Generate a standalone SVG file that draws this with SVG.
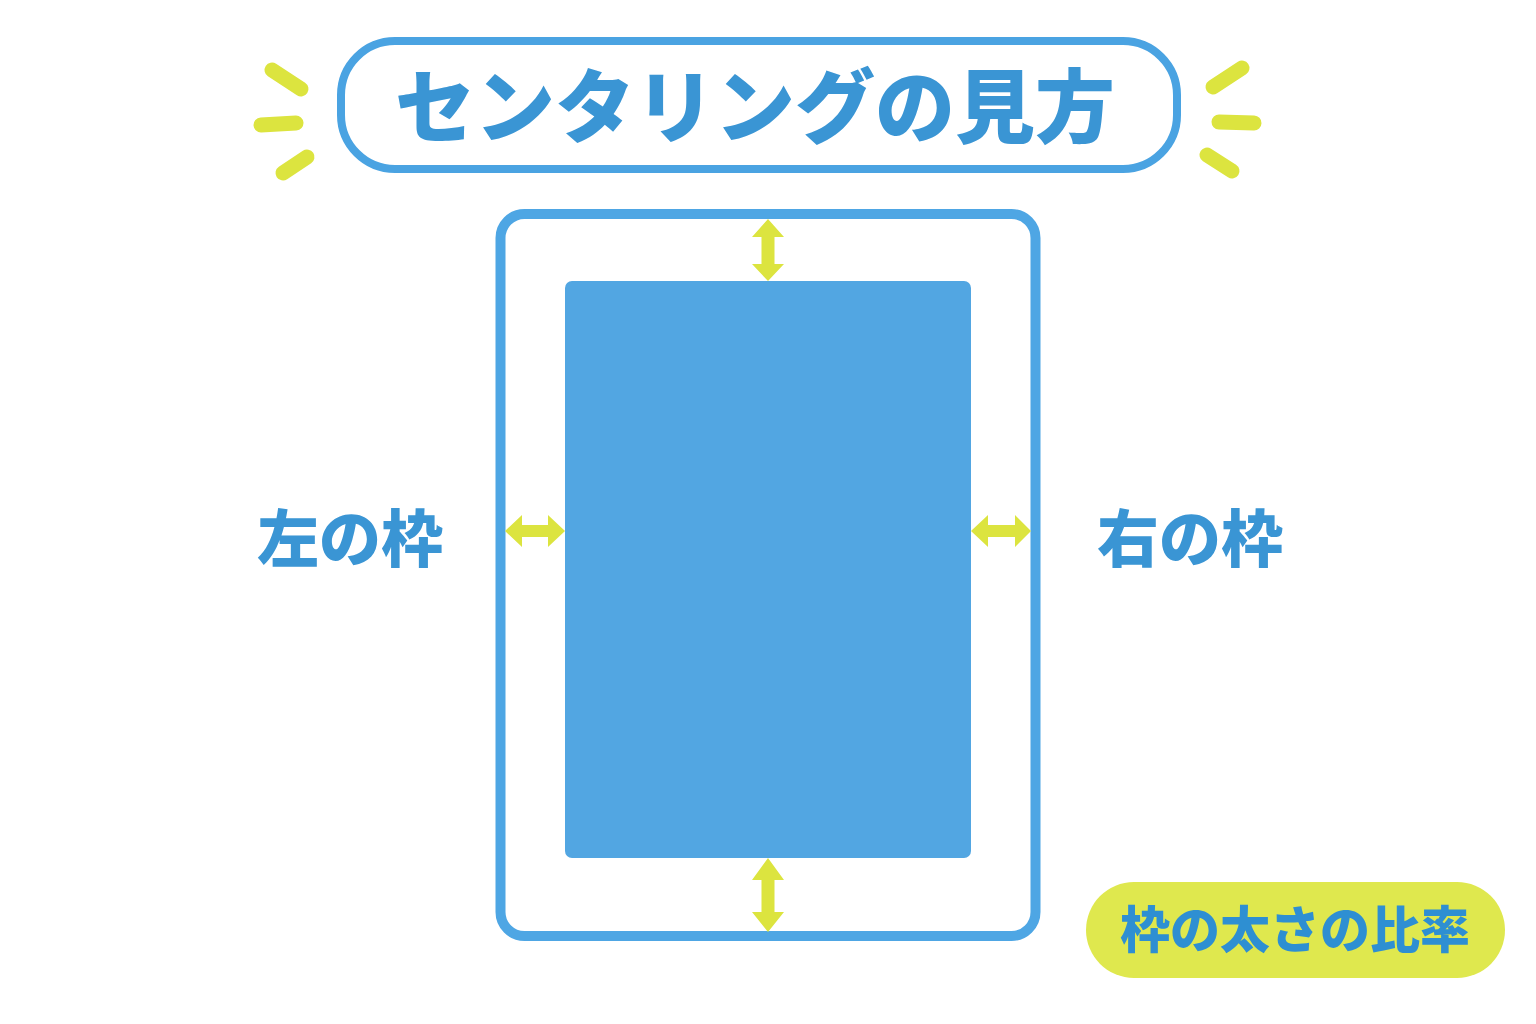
<svg xmlns="http://www.w3.org/2000/svg" width="1536" height="1024" viewBox="0 0 1536 1024">
<style>
.t{font-family:"Noto Sans CJK JP","Noto Sans",sans-serif;font-weight:900;text-anchor:middle}
.blue{fill:#3a95d4}
.spark{stroke:#dce43f;stroke-width:15;stroke-linecap:round;fill:none}
.arr{fill:#dce43f}
</style>
<rect width="1536" height="1024" fill="#ffffff"/>
<g id="title">
<rect x="341" y="41" width="836" height="128" rx="54" fill="#ffffff" stroke="#4aa3e2" stroke-width="8"/>
<text class="t blue" x="755" y="136" font-size="80">センタリングの見方</text>
</g>
<g id="sparkles-left">
<line class="spark" x1="272" y1="70" x2="301" y2="89"/>
<line class="spark" x1="261" y1="125" x2="296" y2="123"/>
<line class="spark" x1="283" y1="173" x2="307" y2="157"/>
</g>
<g id="sparkles-right">
<line class="spark" x1="1213" y1="87" x2="1242" y2="68"/>
<line class="spark" x1="1219" y1="122" x2="1254" y2="123"/>
<line class="spark" x1="1207" y1="155" x2="1232" y2="171"/>
</g>
<g id="frame">
<rect x="500.5" y="214" width="535" height="722" rx="24" fill="#ffffff" stroke="#4ea6e4" stroke-width="10"/>
</g>
<g id="content">
<rect x="565" y="281" width="406" height="577" rx="7" fill="#52a6e2"/>
</g>
<g id="connectors">
<polygon class="arr" points="768,219 784,237 774.5,237 774.5,264 784,264 768,281 752,264 761.5,264 761.5,237 752,237"/>
<polygon class="arr" points="768,858 784,880 774.5,880 774.5,912 784,912 768,932 752,912 761.5,912 761.5,880 752,880"/>
<polygon class="arr" points="505,531 522,515 522,525 548,525 548,515 565,531 548,547 548,537 522,537 522,547"/>
<polygon class="arr" points="971,531 988,515 988,525 1015,525 1015,515 1031,531 1015,547 1015,537 988,537 988,547"/>
</g>
<g id="label-left">
<text class="t blue" x="350" y="562" font-size="62">左の枠</text>
</g>
<g id="label-right">
<text class="t blue" x="1190" y="562" font-size="62">右の枠</text>
</g>
<g id="ratio">
<rect x="1086" y="882" width="419" height="96" rx="48" fill="#dfe84e"/>
<text class="t" x="1295" y="948" font-size="50" fill="#2e8fd2">枠の太さの比率</text>
</g>
</svg>
